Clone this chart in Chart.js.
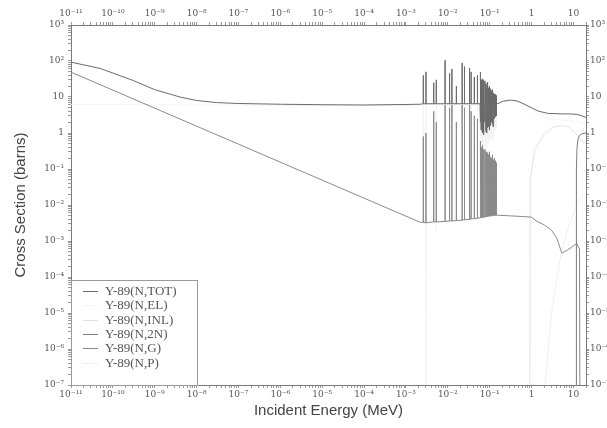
<!DOCTYPE html>
<html>
<head>
<meta charset="utf-8">
<script src="https://cdn.jsdelivr.net/npm/chart.js@4/dist/chart.umd.min.js"></script>
<style>
  body { margin: 0; background: #fff; }
  canvas { display: block; }
</style>
</head>
<body>
<canvas id="xsChart" width="607" height="428"></canvas>
<script>
// energies in MeV, cross sections in barns
const seriesNames = ['Y-89(N,TOT)', 'Y-89(N,EL)', 'Y-89(N,INL)', 'Y-89(N,2N)', 'Y-89(N,G)', 'Y-89(N,P)'];
const seriesColors = ['#6a6a6a', '#f3f3f3', '#e2e2e2', '#7c7c7c', '#8a8a8a', '#f0f0f0'];

// total: 1/v part and flat part below the resonances
const totE  = [1e-11, 5e-11, 3e-10, 1e-9, 4e-9, 1e-8, 3e-8, 1e-7, 1e-6, 1e-5, 1e-4, 1e-3, 2.2e-3];
const totXS = [93, 62, 29, 16, 10, 8.0, 7.0, 6.6, 6.3, 6.1, 6.0, 6.2, 6.3];

// resolved resonances
const resE    = [2.6e-3, 3.0e-3, 4.6e-3, 5.3e-3, 8.6e-3, 1.1e-2, 1.25e-2, 1.6e-2, 2.2e-2, 2.5e-2, 3.3e-2, 3.6e-2, 4.3e-2, 5.1e-2,
                 5.9e-2, 6.2e-2, 6.4e-2, 6.7e-2, 7.0e-2, 7.3e-2, 7.7e-2, 8.1e-2, 8.5e-2, 8.9e-2, 9.3e-2, 9.7e-2, 0.10, 0.105,
                 0.11, 0.115, 0.12, 0.125, 0.13, 0.138, 0.145];
const totPeak = [40, 50, 25, 30, 105, 45, 60, 20, 88, 70, 64, 50, 36, 40,
                 49, 35, 30, 32, 25, 30, 28, 24, 22, 26, 18, 20, 20, 17, 15, 16, 14, 13, 12, 12, 11];
const totDip  = [6.5, 6.5, 6.5, 6.5, 6.5, 6.5, 6.5, 6.5, 6.5, 6.5, 6.5, 6.5, 6.5, 6.5,
                 2.0, 1.2, 1.5, 1.0, 1.2, 0.9, 2.0, 1.1, 1.0, 1.4, 1.5, 1.3, 1.2, 1.6, 2.0, 1.8, 1.5, 2.2, 2.5, 2.8, 3.0];
const elPeak  = [36, 45, 22, 27, 95, 40, 55, 18, 80, 62, 58, 45, 32, 36,
                 44, 31, 27, 29, 22, 27, 25, 21, 20, 23, 16, 18, 18, 15, 13, 14, 12, 11, 11, 11, 10];
const elDip   = [0.3, 1e-8, 6.2, 2e-3, 1.5, 0.8, 2, 6.2, 1, 2, 1.5, 3, 6.2, 4,
                 0.8, 0.5, 0.6, 0.4, 0.5, 0.3, 0.8, 0.4, 0.4, 0.5, 0.6, 0.5, 0.5, 0.7, 0.8, 0.7, 0.6, 0.9, 1, 1.2, 1.5];
const gPeak   = [0.8, 1.0, 4, 2, 6, 5, 6, 2, 6, 5, 6, 4, 3, 2.5,
                 0.6, 0.5, 0.4, 0.45, 0.3, 0.35, 0.35, 0.3, 0.3, 0.28, 0.25, 0.27, 0.3, 0.22, 0.2, 0.22, 0.25, 0.18, 0.2, 0.17, 0.15];
const gBase   = [3.3e-3, 3.2e-3, 3.4e-3, 3.4e-3, 3.5e-3, 3.6e-3, 3.6e-3, 3.7e-3, 3.8e-3, 3.9e-3, 4.0e-3, 4.1e-3, 4.2e-3, 4.3e-3,
                 4.4e-3, 4.4e-3, 4.5e-3, 4.5e-3, 4.6e-3, 4.6e-3, 4.7e-3, 4.7e-3, 4.8e-3, 4.8e-3, 4.9e-3, 4.9e-3, 5.0e-3, 5.0e-3,
                 5.0e-3, 5.0e-3, 5.1e-3, 5.1e-3, 5.1e-3, 5.2e-3, 5.2e-3];
const totResBase = 6.5;
const elResBase = 6.2;

// fast region
const hiE     = [0.16, 0.2, 0.3, 0.4, 0.5, 0.7, 1.0, 1.5, 2.5, 5, 8, 12, 16, 20];
const totHiXS = [6.6, 7.5, 8.2, 8.0, 7.4, 6.2, 5.0, 4.0, 3.5, 3.4, 3.4, 3.3, 3.0, 2.7];
const elHiXS  = [6.4, 7.2, 7.8, 7.6, 7.0, 5.8, 4.4, 3.2, 2.5, 2.3, 2.2, 2.1, 1.9, 1.8];

// elastic below the resonances
const elE  = [1e-11, 1e-8, 1e-6, 1e-4, 2.2e-3];
const elXS = [6.2, 6.0, 5.9, 5.8, 6.0];

// capture
const gE    = [1e-11, 1e-7, 2.2e-3];
const gXS   = [49, 0.49, 3.3e-3];
const gHiE  = [0.16, 0.3, 0.6, 1.0, 1.3, 2, 3, 4, 5.3, 7, 9.5, 12, 14, 14.4];
const gHiXS = [5.2e-3, 5.0e-3, 4.8e-3, 4.6e-3, 3.6e-3, 2.8e-3, 2.0e-3, 1.2e-3, 4.6e-4, 5.5e-4, 7e-4, 8.5e-4, 6e-4, 1e-9];

// threshold reactions
const inlE  = [0.91, 0.93, 1.2, 2, 3, 5, 8, 12, 16, 20];
const inlXS = [1e-9, 0.05, 0.35, 0.9, 1.4, 1.6, 1.5, 0.9, 0.6, 0.5];
const n2E   = [11.6, 11.8, 12.2, 13, 14, 16, 20];
const n2XS  = [1e-9, 0.1, 0.4, 0.7, 0.85, 0.95, 1.0];
const pE    = [1.5, 3, 5, 8, 12, 16, 20];
const pXS   = [1e-9, 1e-5, 4e-4, 3e-3, 1e-2, 1.8e-2, 2.2e-2];

const eMin = 1e-11, eMax = 20;
const sMin = 1e-7, sMax = 1e3;

function pts(es, xs) {
  return es.map((e, i) => ({ x: e, y: xs[i] }));
}

// each resonance: base, peak, dip, back to base
function spikes(base, peaks, dips) {
  const out = [];
  resE.forEach((e, i) => {
    const b = Array.isArray(base) ? base[i] : base;
    out.push({ x: e / 1.002, y: b }, { x: e, y: peaks[i] }, { x: e * 1.002, y: dips[i] }, { x: e * 1.004, y: b });
  });
  return out;
}

const SUP = { '-': '\u207B', '0': '\u2070', '1': '\u00B9', '2': '\u00B2', '3': '\u00B3', '4': '\u2074',
              '5': '\u2075', '6': '\u2076', '7': '\u2077', '8': '\u2078', '9': '\u2079' };

function powLabel(v) {
  const p = Math.round(Math.log10(v));
  if (Math.abs(v / Math.pow(10, p) - 1) > 1e-6) return '';
  if (p === 0) return '1';
  if (p === 1) return '10';
  return '10' + String(p).split('').map(c => SUP[c]).join('');
}

function logTicks(lo, hi) {
  const t = [];
  for (let p = Math.floor(Math.log10(lo)); p <= Math.ceil(Math.log10(hi)); p++) {
    for (let m = 1; m < 10; m++) {
      const v = m * Math.pow(10, p);
      if (v >= lo * 0.999 && v <= hi * 1.001) t.push({ value: v });
    }
  }
  return t;
}

const tickFont = { family: '"DejaVu Serif", serif', size: 9 };
const gridOpts = { drawOnChartArea: false, tickLength: 3, color: '#9a9a9a' };
const borderOpts = { color: '#7a7a7a', width: 1 };

function axis(pos, lo, hi, size, pad, title) {
  const horiz = pos === 'top' || pos === 'bottom';
  return {
    type: 'logarithmic',
    position: pos,
    min: lo,
    max: hi,
    display: true,
    grid: gridOpts,
    border: borderOpts,
    ticks: { autoSkip: false, maxRotation: 0, minRotation: 0, padding: pad, font: tickFont, color: '#555',
             callback: v => powLabel(v) },
    title: title,
    afterBuildTicks: s => { s.ticks = logTicks(lo, hi); },
    afterFit: s => { if (horiz) s.height = size; else s.width = size; }
  };
}

const legendBox = {
  id: 'legendBox',
  afterDatasetsDraw(chart) {
    const { ctx, chartArea } = chart;
    const left = chartArea.left, top = chartArea.bottom - 105;
    const w = 126, h = 105;
    ctx.save();
    ctx.fillStyle = '#fff';
    ctx.fillRect(left, top, w, h);
    ctx.strokeStyle = '#9a9a9a';
    ctx.lineWidth = 1;
    ctx.strokeRect(left + 0.5, top + 0.5, w, h);
    ctx.font = '13px "Liberation Serif", serif';
    ctx.textBaseline = 'middle';
    seriesNames.forEach((name, i) => {
      const y = Math.round(top + 11 + i * 14.3) + 0.5;
      ctx.strokeStyle = seriesColors[i];
      ctx.beginPath();
      ctx.moveTo(left + 12, y);
      ctx.lineTo(left + 27, y);
      ctx.stroke();
      ctx.fillStyle = '#555';
      ctx.fillText(name, left + 34, y);
    });
    ctx.restore();
  }
};

const lineStyle = (i) => ({
  label: seriesNames[i],
  borderColor: seriesColors[i],
  borderWidth: 1,
  pointRadius: 0,
  tension: 0,
  fill: false
});

new Chart(document.getElementById('xsChart'), {
  type: 'line',
  data: {
    datasets: [
      Object.assign(lineStyle(0), { data: pts(totE, totXS).concat(spikes(totResBase, totPeak, totDip), pts(hiE, totHiXS)) }),
      Object.assign(lineStyle(3), { data: pts(n2E, n2XS) }),
      Object.assign(lineStyle(4), { data: pts(gE, gXS).concat(spikes(gBase, gPeak, gBase), pts(gHiE, gHiXS)) }),
      Object.assign(lineStyle(2), { data: pts(inlE, inlXS) }),
      Object.assign(lineStyle(5), { data: pts(pE, pXS) }),
      Object.assign(lineStyle(1), { data: pts(elE, elXS).concat(spikes(elResBase, elPeak, elDip), pts(hiE, elHiXS)) })
    ]
  },
  options: {
    responsive: false,
    animation: false,
    devicePixelRatio: 1,
    layout: { padding: 0 },
    plugins: { legend: { display: false }, tooltip: { enabled: false } },
    scales: {
      x: axis('bottom', eMin, eMax, 43, 1, {
        display: true, text: 'Incident Energy (MeV)', color: '#444',
        font: { family: '"Liberation Sans", Arial, sans-serif', size: 15 }, padding: { top: 0, bottom: 8 }
      }),
      x2: axis('top', eMin, eMax, 25, 3),
      y: axis('left', sMin, sMax, 71, 4, {
        display: true, text: 'Cross Section (barns)', color: '#444',
        font: { family: '"Liberation Sans", Arial, sans-serif', size: 15 }, padding: { top: 12, bottom: 0 }
      }),
      y2: axis('right', sMin, sMax, 21, 1)
    }
  },
  plugins: [legendBox]
});
</script>
</body>
</html>
